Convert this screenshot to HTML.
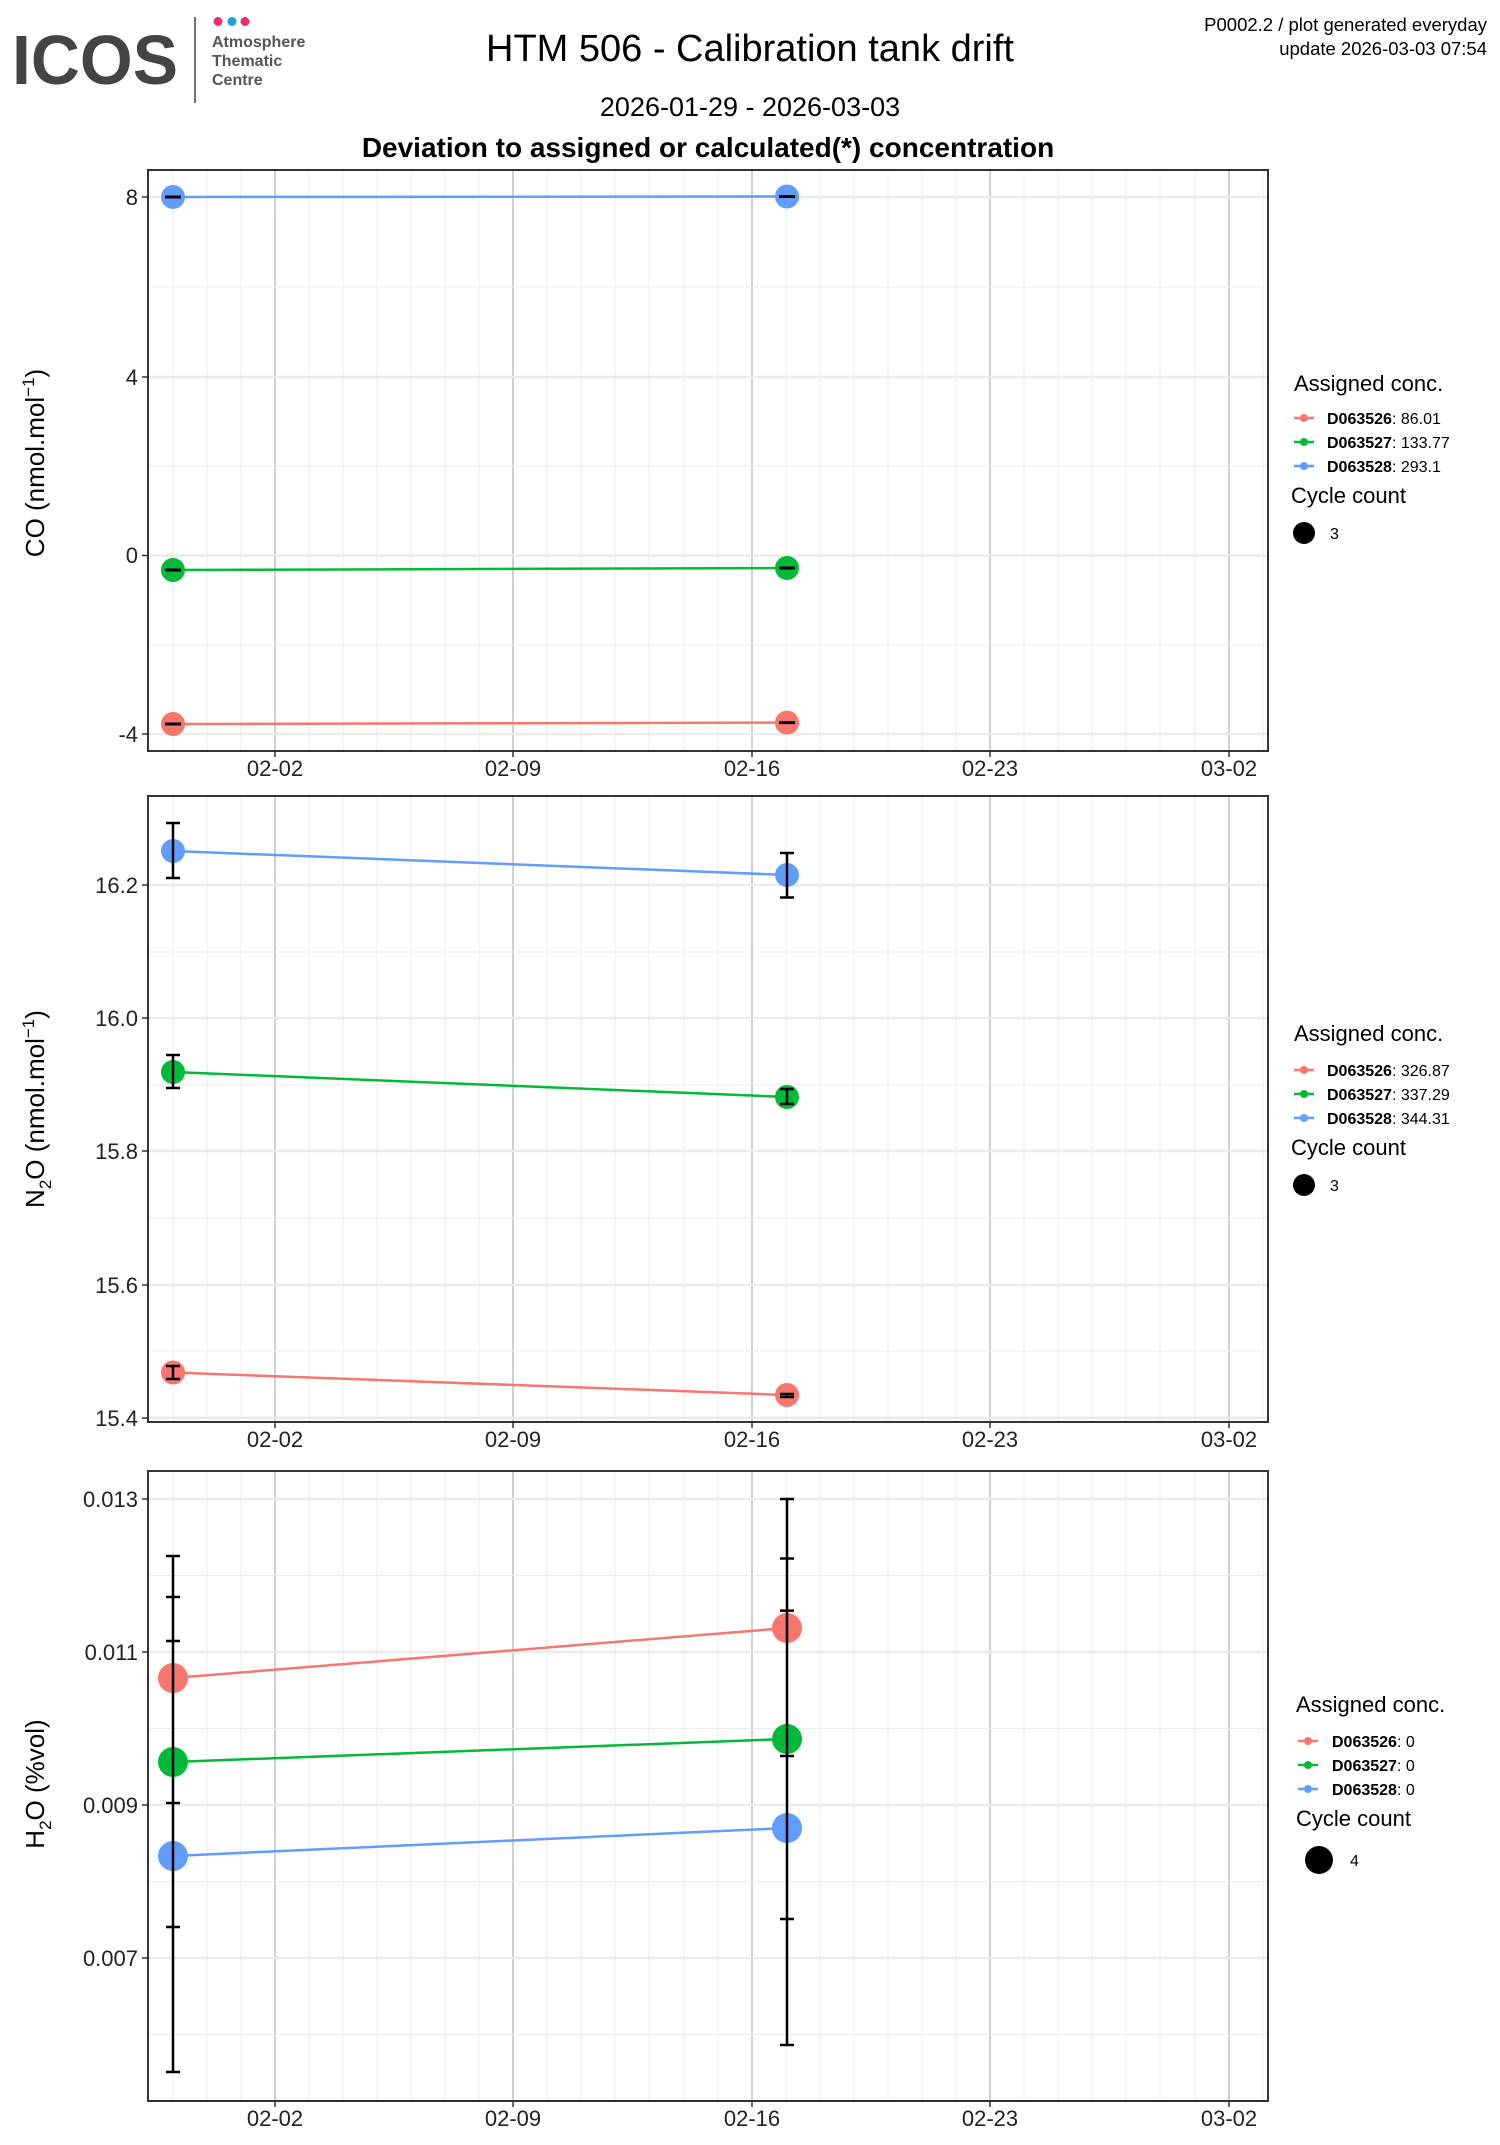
<!DOCTYPE html>
<html><head><meta charset="utf-8"><style>
body{margin:0;background:#fff}
svg{display:block;font-family:"Liberation Sans",sans-serif}
</style></head><body>
<svg width="1500" height="2145" viewBox="0 0 1500 2145" xmlns="http://www.w3.org/2000/svg">
<defs>
<g id="vgrid">
<g stroke="#ebebeb" stroke-width="1">
<line x1="173" y1="0" x2="173" y2="1"/><line x1="207" y1="0" x2="207" y2="1"/><line x1="241" y1="0" x2="241" y2="1"/>
<line x1="309" y1="0" x2="309" y2="1"/><line x1="343" y1="0" x2="343" y2="1"/><line x1="377" y1="0" x2="377" y2="1"/><line x1="411" y1="0" x2="411" y2="1"/><line x1="445" y1="0" x2="445" y2="1"/><line x1="479" y1="0" x2="479" y2="1"/>
<line x1="547" y1="0" x2="547" y2="1"/><line x1="581" y1="0" x2="581" y2="1"/><line x1="615" y1="0" x2="615" y2="1"/><line x1="649" y1="0" x2="649" y2="1"/><line x1="684" y1="0" x2="684" y2="1"/><line x1="718" y1="0" x2="718" y2="1"/>
<line x1="786" y1="0" x2="786" y2="1"/><line x1="820" y1="0" x2="820" y2="1"/><line x1="854" y1="0" x2="854" y2="1"/><line x1="888" y1="0" x2="888" y2="1"/><line x1="922" y1="0" x2="922" y2="1"/><line x1="956" y1="0" x2="956" y2="1"/>
<line x1="1024" y1="0" x2="1024" y2="1"/><line x1="1058" y1="0" x2="1058" y2="1"/><line x1="1092" y1="0" x2="1092" y2="1"/><line x1="1126" y1="0" x2="1126" y2="1"/><line x1="1160" y1="0" x2="1160" y2="1"/><line x1="1195" y1="0" x2="1195" y2="1"/><line x1="1263" y1="0" x2="1263" y2="1"/>
</g>
<g stroke="#cfcfcf" stroke-width="2">
<line x1="275" y1="0" x2="275" y2="1"/><line x1="513" y1="0" x2="513" y2="1"/><line x1="752" y1="0" x2="752" y2="1"/><line x1="990" y1="0" x2="990" y2="1"/><line x1="1229" y1="0" x2="1229" y2="1"/>
</g>
</g>
<g id="xlab" font-size="22" fill="#222" text-anchor="middle">
<text x="275" y="0">02-02</text><text x="513" y="0">02-09</text><text x="752" y="0">02-16</text><text x="990" y="0">02-23</text><text x="1229" y="0">03-02</text>
</g>
</defs>

<!-- Header -->
<text x="12" y="84" font-size="70" font-weight="bold" fill="#444" textLength="166" lengthAdjust="spacingAndGlyphs">ICOS</text>
<circle cx="218" cy="21.5" r="4.5" fill="#e5306a"/><circle cx="232" cy="21.5" r="4.5" fill="#1aa1e0"/><circle cx="245" cy="21.5" r="4.5" fill="#e5306a"/>
<line x1="195" y1="17" x2="195" y2="103" stroke="#444" stroke-width="1.5"/>
<g font-size="16" font-weight="bold" fill="#555"><text x="212" y="47">Atmosphere</text><text x="212" y="66">Thematic</text><text x="212" y="85">Centre</text></g>
<text x="750" y="61" font-size="38" text-anchor="middle" fill="#000">HTM 506 - Calibration tank drift</text>
<text x="750" y="116" font-size="27" text-anchor="middle" fill="#000">2026-01-29 - 2026-03-03</text>
<text x="708" y="157" font-size="28" font-weight="bold" text-anchor="middle" fill="#000">Deviation to assigned or calculated(*) concentration</text>
<g font-size="18.5" text-anchor="end" fill="#000"><text x="1487" y="31">P0002.2 / plot generated everyday</text><text x="1487" y="55">update  2026-03-03 07:54</text></g>

<!-- Panel 1 -->
<g>
<g transform="translate(0,170) scale(1,581)"><use href="#vgrid"/></g>
<g stroke="#ebebeb" stroke-width="1"><line x1="148" x2="1268" y1="287" y2="287"/><line x1="148" x2="1268" y1="466" y2="466"/><line x1="148" x2="1268" y1="645" y2="645"/></g>
<g stroke="#ebebeb" stroke-width="2.5"><line x1="148" x2="1268" y1="197" y2="197"/><line x1="148" x2="1268" y1="377" y2="377"/><line x1="148" x2="1268" y1="555.5" y2="555.5"/><line x1="148" x2="1268" y1="734" y2="734"/></g>
<line x1="173" y1="197" x2="787" y2="196.5" stroke="#619cff" stroke-width="2.5"/>
<line x1="173" y1="570" x2="787" y2="568" stroke="#00ba38" stroke-width="2.5"/>
<line x1="173" y1="724" x2="787" y2="722.6" stroke="#f8766d" stroke-width="2.5"/>
<circle cx="173" cy="197" r="12" fill="#619cff"/><circle cx="787" cy="196.5" r="12" fill="#619cff"/>
<circle cx="173" cy="570" r="12" fill="#00ba38"/><circle cx="787" cy="568" r="12" fill="#00ba38"/>
<circle cx="173" cy="724" r="12" fill="#f8766d"/><circle cx="787" cy="722.6" r="12" fill="#f8766d"/>
<g stroke="#000" stroke-width="3"><line x1="165" x2="181" y1="197" y2="197"/><line x1="779" x2="795" y1="196.5" y2="196.5"/><line x1="165" x2="181" y1="570" y2="570"/><line x1="779" x2="795" y1="568" y2="568"/><line x1="165" x2="181" y1="724" y2="724"/><line x1="779" x2="795" y1="722.6" y2="722.6"/></g>
<rect x="148" y="170" width="1120" height="581" fill="none" stroke="#333" stroke-width="2"/>
<g stroke="#333" stroke-width="1.5"><line x1="142" x2="148" y1="197" y2="197"/><line x1="142" x2="148" y1="377" y2="377"/><line x1="142" x2="148" y1="555.5" y2="555.5"/><line x1="142" x2="148" y1="734" y2="734"/>
<line x1="275" x2="275" y1="751" y2="757"/><line x1="513" x2="513" y1="751" y2="757"/><line x1="752" x2="752" y1="751" y2="757"/><line x1="990" x2="990" y1="751" y2="757"/><line x1="1229" x2="1229" y1="751" y2="757"/></g>
<g font-size="22" text-anchor="end" fill="#222"><text x="138" y="205">8</text><text x="138" y="385">4</text><text x="138" y="563">0</text><text x="138" y="742">-4</text></g>
<g transform="translate(0,776)"><use href="#xlab"/></g>
<text transform="translate(44,463) rotate(-90)" font-size="26" text-anchor="middle" fill="#000">CO (nmol.mol<tspan dy="-10" font-size="17">−1</tspan><tspan dy="10">)</tspan></text>
</g>

<!-- Panel 2 -->
<g>
<g transform="translate(0,796) scale(1,626)"><use href="#vgrid"/></g>
<g stroke="#ebebeb" stroke-width="1"><line x1="148" x2="1268" y1="952" y2="952"/><line x1="148" x2="1268" y1="1085" y2="1085"/><line x1="148" x2="1268" y1="1218" y2="1218"/><line x1="148" x2="1268" y1="1351" y2="1351"/></g>
<g stroke="#ebebeb" stroke-width="2.5"><line x1="148" x2="1268" y1="885" y2="885"/><line x1="148" x2="1268" y1="1018" y2="1018"/><line x1="148" x2="1268" y1="1151" y2="1151"/><line x1="148" x2="1268" y1="1285" y2="1285"/><line x1="148" x2="1268" y1="1418" y2="1418"/></g>
<line x1="173" y1="851" x2="787" y2="875" stroke="#619cff" stroke-width="2.5"/>
<line x1="173" y1="1072" x2="787" y2="1097" stroke="#00ba38" stroke-width="2.5"/>
<line x1="173" y1="1372.5" x2="787" y2="1395" stroke="#f8766d" stroke-width="2.5"/>
<circle cx="173" cy="851" r="12" fill="#619cff"/><circle cx="787" cy="875" r="12" fill="#619cff"/>
<circle cx="173" cy="1072" r="12" fill="#00ba38"/><circle cx="787" cy="1097" r="12" fill="#00ba38"/>
<circle cx="173" cy="1372.5" r="12" fill="#f8766d"/><circle cx="787" cy="1395" r="12" fill="#f8766d"/>
<g stroke="#000" stroke-width="2.5" fill="none">
<path d="M166 823H180M173 823V878M166 878H180"/>
<path d="M780 853H794M787 853V897.5M780 897.5H794"/>
<path d="M166 1055H180M173 1055V1088M166 1088H180"/>
<path d="M780 1089H794M787 1089V1104M780 1104H794"/>
<path d="M166 1366H180M173 1366V1379M166 1379H180"/>
<path d="M780 1394H794M787 1394V1397M780 1397H794"/>
</g>
<rect x="148" y="796" width="1120" height="626" fill="none" stroke="#333" stroke-width="2"/>
<g stroke="#333" stroke-width="1.5"><line x1="142" x2="148" y1="885" y2="885"/><line x1="142" x2="148" y1="1018" y2="1018"/><line x1="142" x2="148" y1="1151" y2="1151"/><line x1="142" x2="148" y1="1285" y2="1285"/><line x1="142" x2="148" y1="1418" y2="1418"/>
<line x1="275" x2="275" y1="1422" y2="1428"/><line x1="513" x2="513" y1="1422" y2="1428"/><line x1="752" x2="752" y1="1422" y2="1428"/><line x1="990" x2="990" y1="1422" y2="1428"/><line x1="1229" x2="1229" y1="1422" y2="1428"/></g>
<g font-size="22" text-anchor="end" fill="#222"><text x="138" y="893">16.2</text><text x="138" y="1026">16.0</text><text x="138" y="1159">15.8</text><text x="138" y="1293">15.6</text><text x="138" y="1426">15.4</text></g>
<g transform="translate(0,1447)"><use href="#xlab"/></g>
<text transform="translate(44,1109) rotate(-90)" font-size="26" text-anchor="middle" fill="#000">N<tspan dy="7" font-size="17">2</tspan><tspan dy="-7">O (nmol.mol</tspan><tspan dy="-10" font-size="17">−1</tspan><tspan dy="10">)</tspan></text>
</g>

<!-- Panel 3 -->
<g>
<g transform="translate(0,1471) scale(1,630)"><use href="#vgrid"/></g>
<g stroke="#ebebeb" stroke-width="1"><line x1="148" x2="1268" y1="1575.5" y2="1575.5"/><line x1="148" x2="1268" y1="1728.5" y2="1728.5"/><line x1="148" x2="1268" y1="1881.5" y2="1881.5"/><line x1="148" x2="1268" y1="2034.5" y2="2034.5"/></g>
<g stroke="#ebebeb" stroke-width="2.5"><line x1="148" x2="1268" y1="1499" y2="1499"/><line x1="148" x2="1268" y1="1652" y2="1652"/><line x1="148" x2="1268" y1="1805" y2="1805"/><line x1="148" x2="1268" y1="1958" y2="1958"/></g>
<line x1="173" y1="1678" x2="787" y2="1628" stroke="#f8766d" stroke-width="2.5"/>
<line x1="173" y1="1762" x2="787" y2="1739" stroke="#00ba38" stroke-width="2.5"/>
<line x1="173" y1="1856" x2="787" y2="1828" stroke="#619cff" stroke-width="2.5"/>
<circle cx="173" cy="1678" r="15" fill="#f8766d"/><circle cx="787" cy="1628" r="15" fill="#f8766d"/>
<circle cx="173" cy="1762" r="15" fill="#00ba38"/><circle cx="787" cy="1739" r="15" fill="#00ba38"/>
<circle cx="173" cy="1856" r="15" fill="#619cff"/><circle cx="787" cy="1828" r="15" fill="#619cff"/>
<g stroke="#000" stroke-width="2.5" fill="none">
<path d="M166 1556H180M173 1556V2072M166 2072H180"/>
<path d="M166 1597H180M166 1641H180M166 1803H180M166 1927H180"/>
<path d="M780 1499H794M787 1499V2045M780 2045H794"/>
<path d="M780 1558.5H794M780 1610.6H794M780 1756H794M780 1919H794"/>
</g>
<rect x="148" y="1471" width="1120" height="630" fill="none" stroke="#333" stroke-width="2"/>
<g stroke="#333" stroke-width="1.5"><line x1="142" x2="148" y1="1499" y2="1499"/><line x1="142" x2="148" y1="1652" y2="1652"/><line x1="142" x2="148" y1="1805" y2="1805"/><line x1="142" x2="148" y1="1958" y2="1958"/>
<line x1="275" x2="275" y1="2101" y2="2107"/><line x1="513" x2="513" y1="2101" y2="2107"/><line x1="752" x2="752" y1="2101" y2="2107"/><line x1="990" x2="990" y1="2101" y2="2107"/><line x1="1229" x2="1229" y1="2101" y2="2107"/></g>
<g font-size="22" text-anchor="end" fill="#222"><text x="138" y="1507">0.013</text><text x="138" y="1660">0.011</text><text x="138" y="1813">0.009</text><text x="138" y="1966">0.007</text></g>
<g transform="translate(0,2126)"><use href="#xlab"/></g>
<text transform="translate(44,1784) rotate(-90)" font-size="26" text-anchor="middle" fill="#000">H<tspan dy="7" font-size="17">2</tspan><tspan dy="-7">O (%vol)</tspan></text>
</g>

<!-- Legends -->
<g font-size="16" fill="#000">
<g>
<text x="1294" y="391" font-size="22">Assigned conc.</text>
<line x1="1294" x2="1314" y1="418" y2="418" stroke="#f8766d" stroke-width="2.5"/><circle cx="1304" cy="418" r="4" fill="#f8766d"/>
<text x="1327" y="424"><tspan font-weight="bold">D063526</tspan>: 86.01</text>
<line x1="1294" x2="1314" y1="442" y2="442" stroke="#00ba38" stroke-width="2.5"/><circle cx="1304" cy="442" r="4" fill="#00ba38"/>
<text x="1327" y="448"><tspan font-weight="bold">D063527</tspan>: 133.77</text>
<line x1="1294" x2="1314" y1="466" y2="466" stroke="#619cff" stroke-width="2.5"/><circle cx="1304" cy="466" r="4" fill="#619cff"/>
<text x="1327" y="472"><tspan font-weight="bold">D063528</tspan>: 293.1</text>
<text x="1291" y="503" font-size="22">Cycle count</text>
<circle cx="1304" cy="533" r="11" fill="#000"/><text x="1330" y="539">3</text>
</g>
<g>
<text x="1294" y="1041" font-size="22">Assigned conc.</text>
<line x1="1294" x2="1314" y1="1070" y2="1070" stroke="#f8766d" stroke-width="2.5"/><circle cx="1304" cy="1070" r="4" fill="#f8766d"/>
<text x="1327" y="1076"><tspan font-weight="bold">D063526</tspan>: 326.87</text>
<line x1="1294" x2="1314" y1="1094" y2="1094" stroke="#00ba38" stroke-width="2.5"/><circle cx="1304" cy="1094" r="4" fill="#00ba38"/>
<text x="1327" y="1100"><tspan font-weight="bold">D063527</tspan>: 337.29</text>
<line x1="1294" x2="1314" y1="1118" y2="1118" stroke="#619cff" stroke-width="2.5"/><circle cx="1304" cy="1118" r="4" fill="#619cff"/>
<text x="1327" y="1124"><tspan font-weight="bold">D063528</tspan>: 344.31</text>
<text x="1291" y="1155" font-size="22">Cycle count</text>
<circle cx="1304" cy="1185" r="11" fill="#000"/><text x="1330" y="1191">3</text>
</g>
<g>
<text x="1296" y="1712" font-size="22">Assigned conc.</text>
<line x1="1298" x2="1318" y1="1741" y2="1741" stroke="#f8766d" stroke-width="2.5"/><circle cx="1308" cy="1741" r="4" fill="#f8766d"/>
<text x="1332" y="1747"><tspan font-weight="bold">D063526</tspan>: 0</text>
<line x1="1298" x2="1318" y1="1765" y2="1765" stroke="#00ba38" stroke-width="2.5"/><circle cx="1308" cy="1765" r="4" fill="#00ba38"/>
<text x="1332" y="1771"><tspan font-weight="bold">D063527</tspan>: 0</text>
<line x1="1298" x2="1318" y1="1789" y2="1789" stroke="#619cff" stroke-width="2.5"/><circle cx="1308" cy="1789" r="4" fill="#619cff"/>
<text x="1332" y="1795"><tspan font-weight="bold">D063528</tspan>: 0</text>
<text x="1296" y="1826" font-size="22">Cycle count</text>
<circle cx="1319" cy="1860" r="14" fill="#000"/><text x="1350" y="1866">4</text>
</g>
</g>
</svg>
</body></html>
